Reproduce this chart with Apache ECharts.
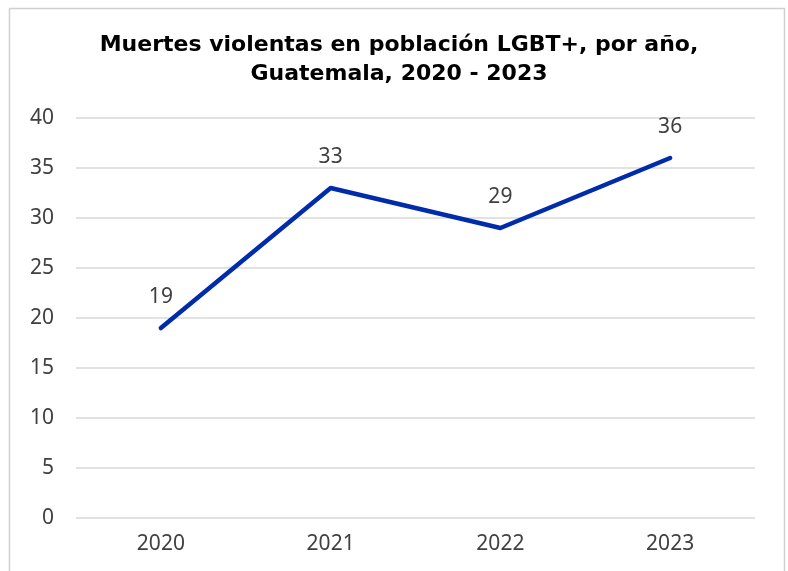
<!DOCTYPE html>
<html><head><meta charset="utf-8">
<script src="https://cdn.jsdelivr.net/npm/echarts@6/dist/echarts.min.js"></script>
<style>html,body{margin:0;padding:0;background:#fff}#c{width:788px;height:571px}</style>
</head><body><div id="c"></div>
<script>
const categories = ['2020', '2021', '2022', '2023'];
const deaths = [19, 33, 29, 36];
const yTicks = {min: 0, max: 40, interval: 5};
const titleText = 'Muertes violentas en población LGBT+, por año,\nGuatemala, 2020 - 2023';

const chart = echarts.init(document.getElementById('c'));
chart.setOption({
  animation: false,
  backgroundColor: '#fff',
  graphic: [{
    type: 'rect', shape: {x: 9.5, y: 8.5, width: 775, height: 600},
    style: {fill: 'none', stroke: '#d0d0d0', lineWidth: 1.5}, silent: true
  }],
  title: {
    text: titleText, left: 394, top: 26, textAlign: 'center',
    textStyle: {fontFamily: 'DejaVu Sans', fontWeight: 'bold', fontSize: 22, color: '#000', lineHeight: 29}
  },
  grid: {left: 76, right: 33, top: 118, bottom: 53, containLabel: false},
  xAxis: {
    type: 'category', data: categories, boundaryGap: true,
    axisLine: {show: false}, axisTick: {show: false},
    axisLabel: {fontFamily: 'Noto Sans', fontSize: 21, color: '#404040', margin: 16}
  },
  yAxis: {
    type: 'value', min: yTicks.min, max: yTicks.max, interval: yTicks.interval,
    axisLine: {show: false}, axisTick: {show: false},
    splitLine: {lineStyle: {color: '#d9d9d9', width: 1.5}},
    axisLabel: {fontFamily: 'Noto Sans', fontSize: 21, color: '#404040', margin: 22}
  },
  series: [{
    type: 'line', data: deaths, symbol: 'circle', symbolSize: 0.5, showSymbol: true,
    itemStyle: {color: 'rgba(0,0,0,0)', borderWidth: 0},
    lineStyle: {color: '#002cac', width: 4.5, cap: 'round', join: 'round'},
    label: {show: true, position: 'top', distance: 20, fontFamily: 'Noto Sans', fontSize: 21, color: '#404040'}
  }]
});
</script></body></html>
